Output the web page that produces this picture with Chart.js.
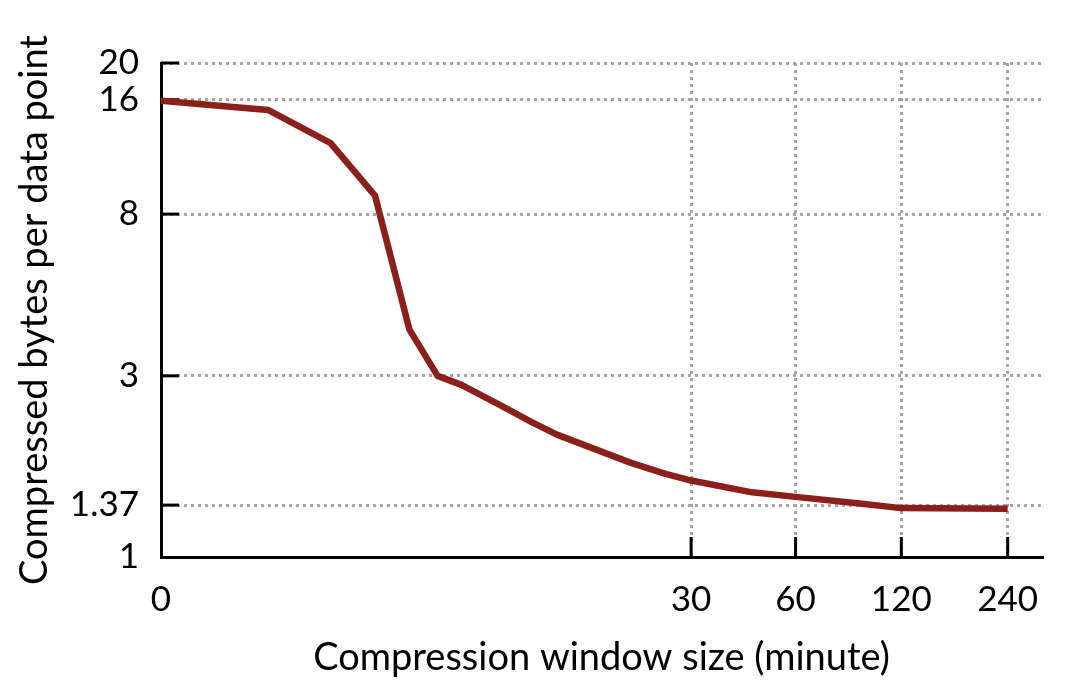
<!DOCTYPE html>
<html>
<head>
<meta charset="utf-8">
<title>Compression window size</title>
<script src="https://cdn.jsdelivr.net/npm/chart.js@4.4.1/dist/chart.umd.min.js"></script>
<style>
    html, body { margin: 0; padding: 0; background: #fff; }
    #wrap { width: 1080px; height: 697px; }
</style>
</head>
<body>
<div id="wrap"><canvas id="chart"></canvas></div>
<script>
// window sizes (minutes) and bytes per point
const windowMinutes = [0, 1, 2, 3, 4, 5, 6, 8, 10, 12, 15, 20, 25, 30, 45, 60, 90, 120, 240];
const bytesPerPoint = [15.9, 15.05, 12.3, 8.95, 3.97, 3.0, 2.84, 2.51, 2.27, 2.1, 1.95, 1.77, 1.66, 1.59, 1.48, 1.44, 1.385, 1.345, 1.34];

const xTickMinutes = [0, 30, 60, 120, 240];
const yTickValues = [1, 1.37, 3, 8, 16, 20];

const FONT = 'Lato, "Open Sans", sans-serif';
const AXIS_LEFT = 161;
const AXIS_BOTTOM = 557;
const PAD = { left: 12, top: 63, right: 38, bottom: 16 };

// x axis is log2(minutes + 1)
const toX = m => Math.log2(m + 1);

// short solid ticks pointing into the plot
const innerTicks = {
    id: 'innerTicks',
    beforeDatasetsDraw(chart) {
        const { ctx, chartArea, scales } = chart;
        ctx.save();
        ctx.strokeStyle = '#000';
        ctx.lineWidth = 3;
        xTickMinutes.forEach(m => {
            if (m === 0) return;
            const x = scales.x.getPixelForValue(toX(m));
            ctx.beginPath();
            ctx.moveTo(x, chartArea.bottom);
            ctx.lineTo(x, chartArea.bottom - 20);
            ctx.stroke();
        });
        yTickValues.forEach(v => {
            if (v === 1) return;
            const y = scales.y.getPixelForValue(v);
            ctx.beginPath();
            ctx.moveTo(chartArea.left, y);
            ctx.lineTo(chartArea.left + 18, y);
            ctx.stroke();
        });
        ctx.restore();
    }
};

const ctx = document.getElementById('chart');
new Chart(ctx, {
    type: 'line',
    data: {
        datasets: [{
            data: windowMinutes.map((m, i) => ({ x: toX(m), y: bytesPerPoint[i] })),
            borderColor: '#8b1f1a',
            borderWidth: 6.5,
            pointRadius: 0,
            tension: 0,
            borderJoinStyle: 'round',
            borderCapStyle: 'butt'
        }]
    },
    options: {
        responsive: true,
        maintainAspectRatio: false,
        animation: false,
        layout: { padding: PAD },
        plugins: {
            legend: { display: false },
            tooltip: { enabled: false }
        },
        scales: {
            x: {
                type: 'linear',
                min: 0,
                max: toX(300),
                afterBuildTicks: scale => {
                    scale.ticks = xTickMinutes.map(m => ({ value: toX(m) }));
                },
                afterFit: scale => {
                    scale.height = 697 - AXIS_BOTTOM - PAD.bottom;
                },
                ticks: {
                    callback: (v, i) => String(xTickMinutes[i]),
                    color: '#000',
                    font: { family: FONT, size: 35 },
                    padding: 22,
                    maxRotation: 0,
                    autoSkip: false
                },
                grid: {
                    drawTicks: false,
                    color: c => (c.index === 0 ? 'rgba(0,0,0,0)' : '#a6a6a6'),
                    lineWidth: 3
                },
                border: { color: '#000', width: 3, dash: [3, 4] },
                title: {
                    display: true,
                    text: 'Compression window size (minute)',
                    color: '#000',
                    font: { family: FONT, size: 38 },
                    padding: 0
                }
            },
            y: {
                type: 'logarithmic',
                min: 1,
                max: 20,
                afterBuildTicks: scale => {
                    scale.ticks = yTickValues.map(v => ({ value: v }));
                },
                afterFit: scale => {
                    scale.width = AXIS_LEFT - PAD.left;
                },
                ticks: {
                    callback: (v, i) => String(yTickValues[i]),
                    color: '#000',
                    font: { family: FONT, size: 35 },
                    padding: 22,
                    autoSkip: false
                },
                grid: {
                    drawTicks: false,
                    color: c => (c.index === 0 ? 'rgba(0,0,0,0)' : '#a6a6a6'),
                    lineWidth: 3
                },
                border: { color: '#000', width: 3, dash: [3, 4] },
                title: {
                    display: true,
                    text: 'Compressed bytes per data point',
                    color: '#000',
                    font: { family: FONT, size: 38 },
                    padding: 0
                }
            }
        }
    },
    plugins: [innerTicks]
});
</script>
</body>
</html>
